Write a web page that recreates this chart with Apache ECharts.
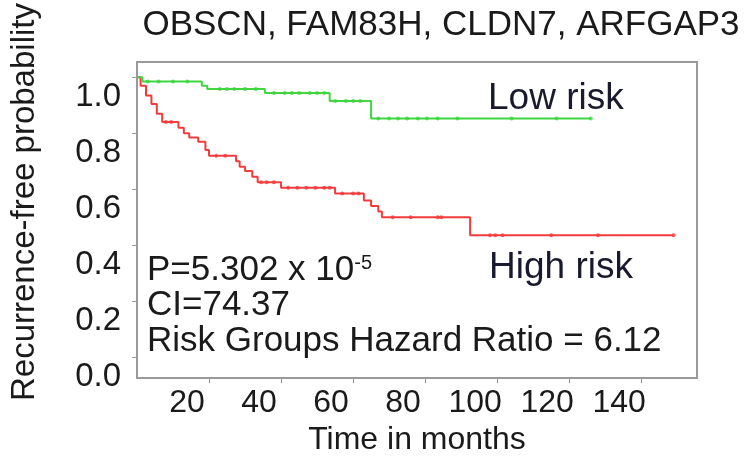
<!DOCTYPE html>
<html>
<head>
<meta charset="utf-8">
<script src="https://cdn.jsdelivr.net/npm/echarts@6/dist/echarts.min.js"></script>
<style>
  html, body { margin: 0; padding: 0; background: #fff; }
  #main { width: 744px; height: 461px; }
</style>
</head>
<body>
<div id="main"></div>
<script>
// step points: time in months, survival right after the drop
var lowTimes = [0, 1.5, 18, 19.5, 35.5, 53.5, 65];
var lowSurv = [1.0, 0.985, 0.97, 0.958, 0.944, 0.915, 0.853];
var lowEnd = 126;
var lowCensor = [3, 6, 10, 14, 23, 25, 27, 30, 33, 38, 41, 43, 45, 48, 50, 52, 55, 58, 60, 62,
  67, 70, 72.5, 75, 78, 80.5, 83.5, 89, 104, 116.5, 126];

var highTimes = [0, 1, 2.5, 4, 5.5, 7, 11.5, 13, 14.5, 17, 19, 20, 27.5, 28.5, 30, 32, 33.5,
  40, 55, 63, 65, 67, 68, 92.5];
var highSurv = [1.0, 0.97, 0.935, 0.905, 0.87, 0.84, 0.82, 0.80, 0.785, 0.77, 0.74, 0.72, 0.70,
  0.68, 0.665, 0.645, 0.625, 0.605, 0.585, 0.56, 0.54, 0.52, 0.50, 0.435];
var highEnd = 149;
var highCensor = [8, 9.5, 22, 24.5, 34.5, 36, 38, 42, 44.5, 47, 49.5, 52, 53.5, 57, 60, 61.5,
  71, 76, 83.5, 84.5, 98, 99.5, 101.5, 115, 128, 149];

var xTicks = [20, 40, 60, 80, 100, 120, 140];
var yTicks = [0, 0.2, 0.4, 0.6, 0.8, 1.0];

var FONT = 'Liberation Sans, Arial, sans-serif';
var GREEN = '#3fd63f';
var RED = '#f23c3c';

function stepLine(times, surv, end) {
  var pts = times.map(function (t, i) { return [t, surv[i]]; });
  pts.push([end, surv[surv.length - 1]]);
  return pts;
}

function survAt(times, surv, t) {
  var s = surv[0];
  for (var i = 0; i < times.length; i++) {
    if (times[i] <= t) s = surv[i];
  }
  return s;
}

function censorPts(censor, times, surv) {
  return censor.map(function (t) { return [t, survAt(times, surv, t)]; });
}

var myChart = echarts.init(document.getElementById('main'));

myChart.setOption({
  animation: false,
  backgroundColor: '#fff',
  title: {
    text: 'OBSCN, FAM83H, CLDN7, ARFGAP3',
    left: 436,
    textAlign: 'center',
    top: 3,
    textStyle: { fontFamily: FONT, fontSize: 35, fontWeight: 'normal', color: '#1a1a1a' }
  },
  grid: {
    left: 127, right: 47, top: 62, bottom: 69,
    show: true, borderColor: '#9a9a9a', borderWidth: 2
  },
  xAxis: {
    type: 'value',
    min: 0,
    max: 155.5,
    splitLine: { show: false },
    axisLine: { show: true, onZero: false, lineStyle: { color: '#9a9a9a', width: 2 } },
    axisTick: { show: true, customValues: xTicks, length: 5, lineStyle: { color: '#9a9a9a' } },
    axisLabel: {
      customValues: xTicks, fontFamily: FONT, fontSize: 32, color: '#1a1a1a', margin: 9,
      padding: [0, 44, 0, 0]
    },
    name: 'Time in months',
    nameLocation: 'middle',
    nameGap: 37,
    nameTextStyle: { fontFamily: FONT, fontSize: 32, color: '#1a1a1a' }
  },
  yAxis: {
    type: 'value',
    min: -0.0753,
    max: 1.0548,
    splitLine: { show: false },
    axisLine: { show: true, onZero: false, lineStyle: { color: '#9a9a9a', width: 2 } },
    axisTick: { show: true, customValues: yTicks, length: 5, lineStyle: { color: '#9a9a9a' } },
    axisLabel: {
      customValues: yTicks,
      formatter: function (v) { return v.toFixed(1); },
      fontFamily: FONT, fontSize: 33, color: '#1a1a1a', margin: 16,
      verticalAlign: 'top', lineHeight: 40
    },
    name: 'Recurrence-free probability',
    nameLocation: 'middle',
    nameGap: 96,
    nameTextStyle: { fontFamily: FONT, fontSize: 33, color: '#1a1a1a', padding: [0, 0, 0, 36] }
  },
  series: [
    {
      name: 'Low risk', type: 'line', step: 'end', showSymbol: false,
      data: stepLine(lowTimes, lowSurv, lowEnd),
      lineStyle: { color: GREEN, width: 2 }, itemStyle: { color: GREEN }, z: 3
    },
    {
      name: 'High risk', type: 'line', step: 'end', showSymbol: false,
      data: stepLine(highTimes, highSurv, highEnd),
      lineStyle: { color: RED, width: 2 }, itemStyle: { color: RED }, z: 2
    },
    {
      type: 'scatter', symbol: 'circle', symbolSize: 4,
      data: censorPts(lowCensor, lowTimes, lowSurv),
      itemStyle: { color: GREEN }, z: 4
    },
    {
      type: 'scatter', symbol: 'circle', symbolSize: 4,
      data: censorPts(highCensor, highTimes, highSurv),
      itemStyle: { color: RED }, z: 4
    }
  ],
  graphic: [
    {
      type: 'text', left: 488, top: 80,
      style: { text: 'Low risk', font: '37px ' + FONT, fill: '#1a1a2e' }
    },
    {
      type: 'text', left: 489, top: 249,
      style: { text: 'High risk', font: '37px ' + FONT, fill: '#1a1a2e' }
    },
    {
      type: 'text', left: 147, top: 253,
      style: {
        text: 'P=5.302 x 10{sup|-5}',
        fontFamily: FONT, fontSize: 35, fill: '#1a1a1a',
        rich: { sup: { fontFamily: FONT, fontSize: 20, verticalAlign: 'top', fill: '#1a1a1a' } }
      }
    },
    {
      type: 'text', left: 147, top: 288,
      style: { text: 'CI=74.37', font: '35px ' + FONT, fill: '#1a1a1a' }
    },
    {
      type: 'text', left: 147, top: 324,
      style: { text: 'Risk Groups Hazard Ratio = 6.12', font: '35px ' + FONT, fill: '#1a1a1a' }
    }
  ]
});
</script>
</body>
</html>
